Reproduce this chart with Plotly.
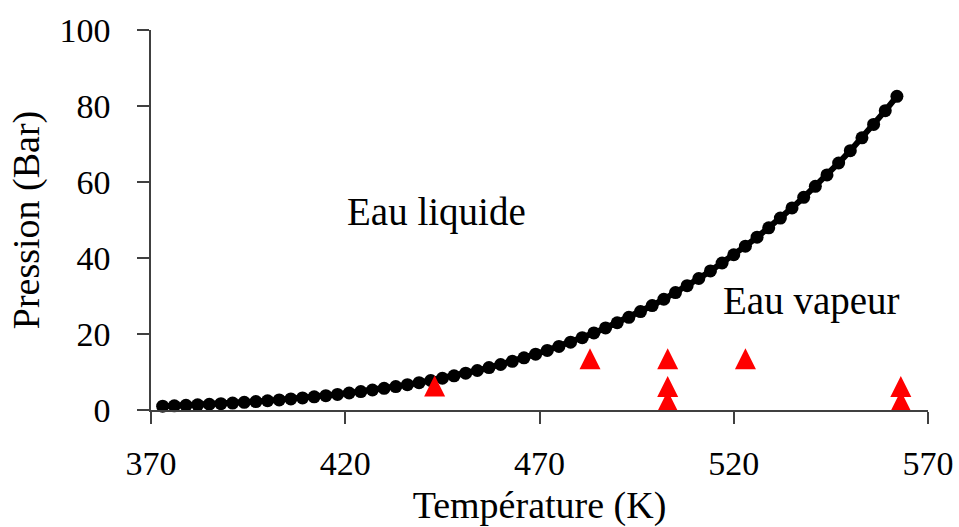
import plotly.graph_objects as go

# Saturation curve of water: temperature (K) and vapour pressure (bar)
T_sat = [373, 376, 379, 382, 385, 388, 391, 394, 397, 400,
         403, 406, 409, 412, 415, 418, 421, 424, 427, 430,
         433, 436, 439, 442, 445, 448, 451, 454, 457, 460,
         463, 466, 469, 472, 475, 478, 481, 484, 487, 490,
         493, 496, 499, 502, 505, 508, 511, 514, 517, 520,
         523, 526, 529, 532, 535, 538, 541, 544, 547, 550,
         553, 556, 559, 562]
P_sat = [1.00, 1.11, 1.23, 1.36, 1.51, 1.66, 1.83, 2.01, 2.21, 2.43,
         2.66, 2.91, 3.17, 3.46, 3.77, 4.11, 4.47, 4.85, 5.26, 5.70,
         6.16, 6.66, 7.19, 7.76, 8.36, 9.00, 9.68, 10.40, 11.16, 11.97,
         12.82, 13.72, 14.68, 15.68, 16.74, 17.86, 19.04, 20.28, 21.59, 22.96,
         24.39, 25.90, 27.49, 29.15, 30.89, 32.71, 34.61, 36.60, 38.68, 40.85,
         43.12, 45.48, 47.94, 50.51, 53.19, 55.97, 58.86, 61.87, 65.00, 68.25,
         71.63, 75.14, 78.78, 82.54]

# Experimental conditions
T_exp = [443, 483, 503, 503, 503, 523, 563, 563]
P_exp = [6.3, 13.5, 13.5, 6.2, 2.3, 13.5, 6.2, 2.3]

# Axis ticks
x_ticks = [370, 420, 470, 520, 570]
y_ticks = [0, 20, 40, 60, 80, 100]

FONT = "Liberation Serif, Times New Roman, serif"
AXIS_COLOR = "#404040"

fig = go.Figure()

fig.add_trace(go.Scatter(
    x=T_sat, y=P_sat, mode="lines+markers",
    line=dict(color="black", width=6),
    marker=dict(color="black", size=13, symbol="circle"),
    showlegend=False, cliponaxis=False,
))

# Upward triangles centred on each point (arrow-down turned over, offset by half its height)
fig.add_trace(go.Scatter(
    x=T_exp, y=P_exp, mode="markers",
    marker=dict(color="#FF0000", size=21, symbol="arrow-down", angle=180,
                standoff=10.5, line=dict(width=0)),
    showlegend=False, cliponaxis=False,
))

fig.add_annotation(x=443.5, y=52, text="Eau liquide", showarrow=False,
                   font=dict(family=FONT, size=39, color="black"),
                   xanchor="center", yanchor="middle")
fig.add_annotation(x=540, y=28.7, text="Eau vapeur", showarrow=False,
                   font=dict(family=FONT, size=39, color="black"),
                   xanchor="center", yanchor="middle")

fig.update_layout(
    width=959, height=527,
    margin=dict(l=151, r=31, t=30, b=117, pad=0),
    paper_bgcolor="white", plot_bgcolor="white",
    font=dict(family=FONT, color="black"),
)

fig.update_xaxes(
    range=[370, 570], tickvals=x_ticks, ticktext=[str(v) for v in x_ticks],
    showgrid=False, zeroline=False, automargin=False,
    showline=True, linecolor=AXIS_COLOR, linewidth=1.5,
    ticks="outside", ticklen=12, tickwidth=1.5, tickcolor=AXIS_COLOR,
    tickfont=dict(family=FONT, size=34, color="black"),
    ticklabelstandoff=10,
    title=dict(text="Température (K)", font=dict(family=FONT, size=38, color="black"),
               standoff=12),
)
fig.update_yaxes(
    range=[0, 100], tickvals=y_ticks, ticktext=[str(v) for v in y_ticks],
    showgrid=False, zeroline=False, automargin=False,
    showline=True, linecolor=AXIS_COLOR, linewidth=1.5,
    ticks="outside", ticklen=12, tickwidth=1.5, tickcolor=AXIS_COLOR,
    tickfont=dict(family=FONT, size=34, color="black"),
    ticklabelstandoff=20,
    title=dict(text="Pression (Bar)", font=dict(family=FONT, size=38, color="black"),
               standoff=8),
)

fig.write_html("out.html")
